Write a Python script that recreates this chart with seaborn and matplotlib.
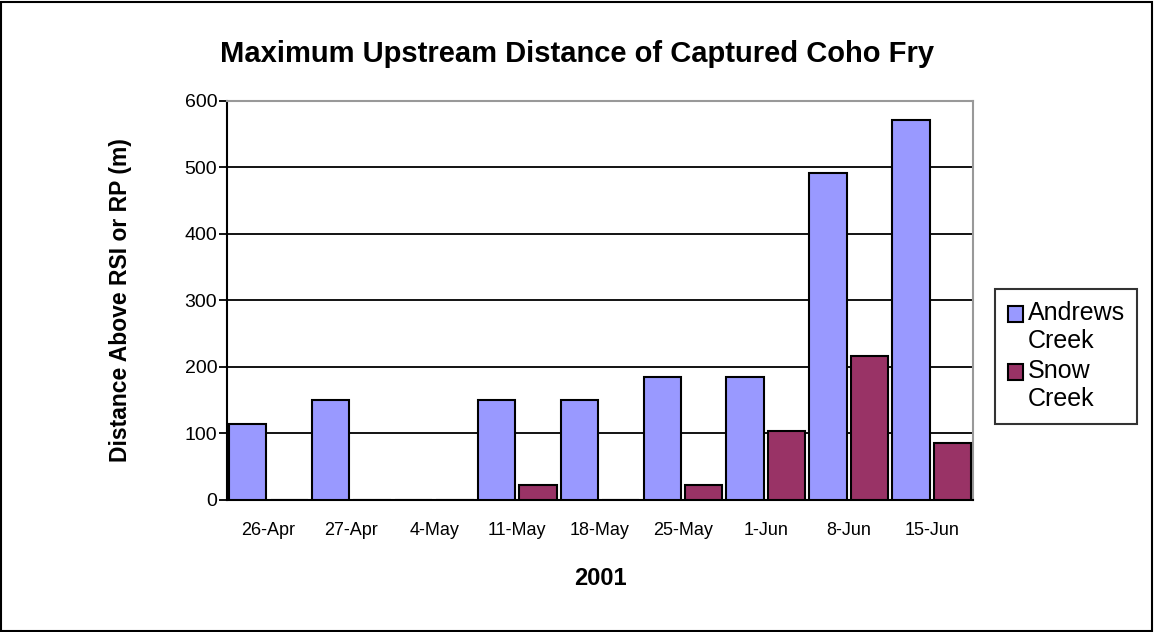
import pandas as pd
import numpy as np
import matplotlib.pyplot as plt
import seaborn as sns
from matplotlib.patches import Rectangle

# datos
fechas = ['26-Apr', '27-Apr', '4-May', '11-May', '18-May', '25-May', '1-Jun', '8-Jun', '15-Jun']
andrews = [115, 150, 0, 150, 150, 185, 185, 492, 572]
snow = [0, 0, 0, 22, 0, 22, 103, 216, 85]
series = ['Andrews\nCreek', 'Snow\nCreek']
colores = ['#9999FF', '#993366']

df = pd.DataFrame({
    'fecha': fechas * 2,
    'distancia': andrews + snow,
    'arroyo': [series[0]] * len(fechas) + [series[1]] * len(fechas),
})

sns.set_style('white')
plt.rcParams['font.family'] = ['Liberation Sans', 'DejaVu Sans']
for clave in ['text.color', 'axes.labelcolor', 'xtick.color', 'ytick.color']:
    plt.rcParams[clave] = 'black'

fig = plt.figure(figsize=(11.54, 6.32), dpi=100)
ax = fig.add_axes([0.1967, 0.2089, 0.6465, 0.6313])

sns.barplot(data=df, x='fecha', y='distancia', hue='arroyo', order=fechas,
            hue_order=series, palette=colores, width=1.0, gap=0.1,
            edgecolor='black', linewidth=1.5, saturation=1, ax=ax, zorder=3)

ax.set_xlim(-0.5, len(fechas) - 0.5)
ax.set_ylim(0, 600)
ax.set_yticks(range(0, 601, 100))
ax.yaxis.grid(True, color='black', linewidth=1.3, zorder=0)
ax.set_axisbelow(True)

# ticks del eje x entre categorias
ax.set_xticks(np.arange(-0.5, len(fechas), 1.0), minor=True)
ax.tick_params(axis='x', which='major', length=0, labelsize=13, pad=16)
ax.tick_params(axis='x', which='minor', length=5, width=1.3, direction='out', color='black')
ax.tick_params(axis='y', length=6, width=1.3, direction='out', color='black',
               labelsize=14, left=True, pad=1)

for lado in ['left', 'bottom']:
    ax.spines[lado].set_color('black')
    ax.spines[lado].set_linewidth(1.5)
for lado in ['top', 'right']:
    ax.spines[lado].set_color('#999999')
    ax.spines[lado].set_linewidth(1.5)

ax.set_xlabel('2001', fontsize=17, fontweight='bold', labelpad=20)
ax.set_ylabel('Distance Above RSI or RP (m)', fontsize=16.5, fontweight='bold', labelpad=38)
fig.text(0.5, 0.915, 'Maximum Upstream Distance of Captured Coho Fry',
         ha='center', va='center', fontsize=21, fontweight='bold')

leg = ax.legend(loc='center left', bbox_to_anchor=(1.013, 0.36), frameon=True,
                fontsize=18, fancybox=False, edgecolor='black', handlelength=0.6,
                handleheight=0.6, handletextpad=0.2, borderpad=0.5, labelspacing=0.25)
leg.get_frame().set_linewidth(1.5)
# cuadrito alineado con la primera linea del texto
for h in leg.legend_handles:
    h.set_y(h.get_y() + 10)

# marco exterior
fig.patches.append(Rectangle((0.001, 0.002), 0.997, 0.995, transform=fig.transFigure,
                             fill=False, edgecolor='black', linewidth=1.5))

plt.savefig('out.png', dpi=100)
